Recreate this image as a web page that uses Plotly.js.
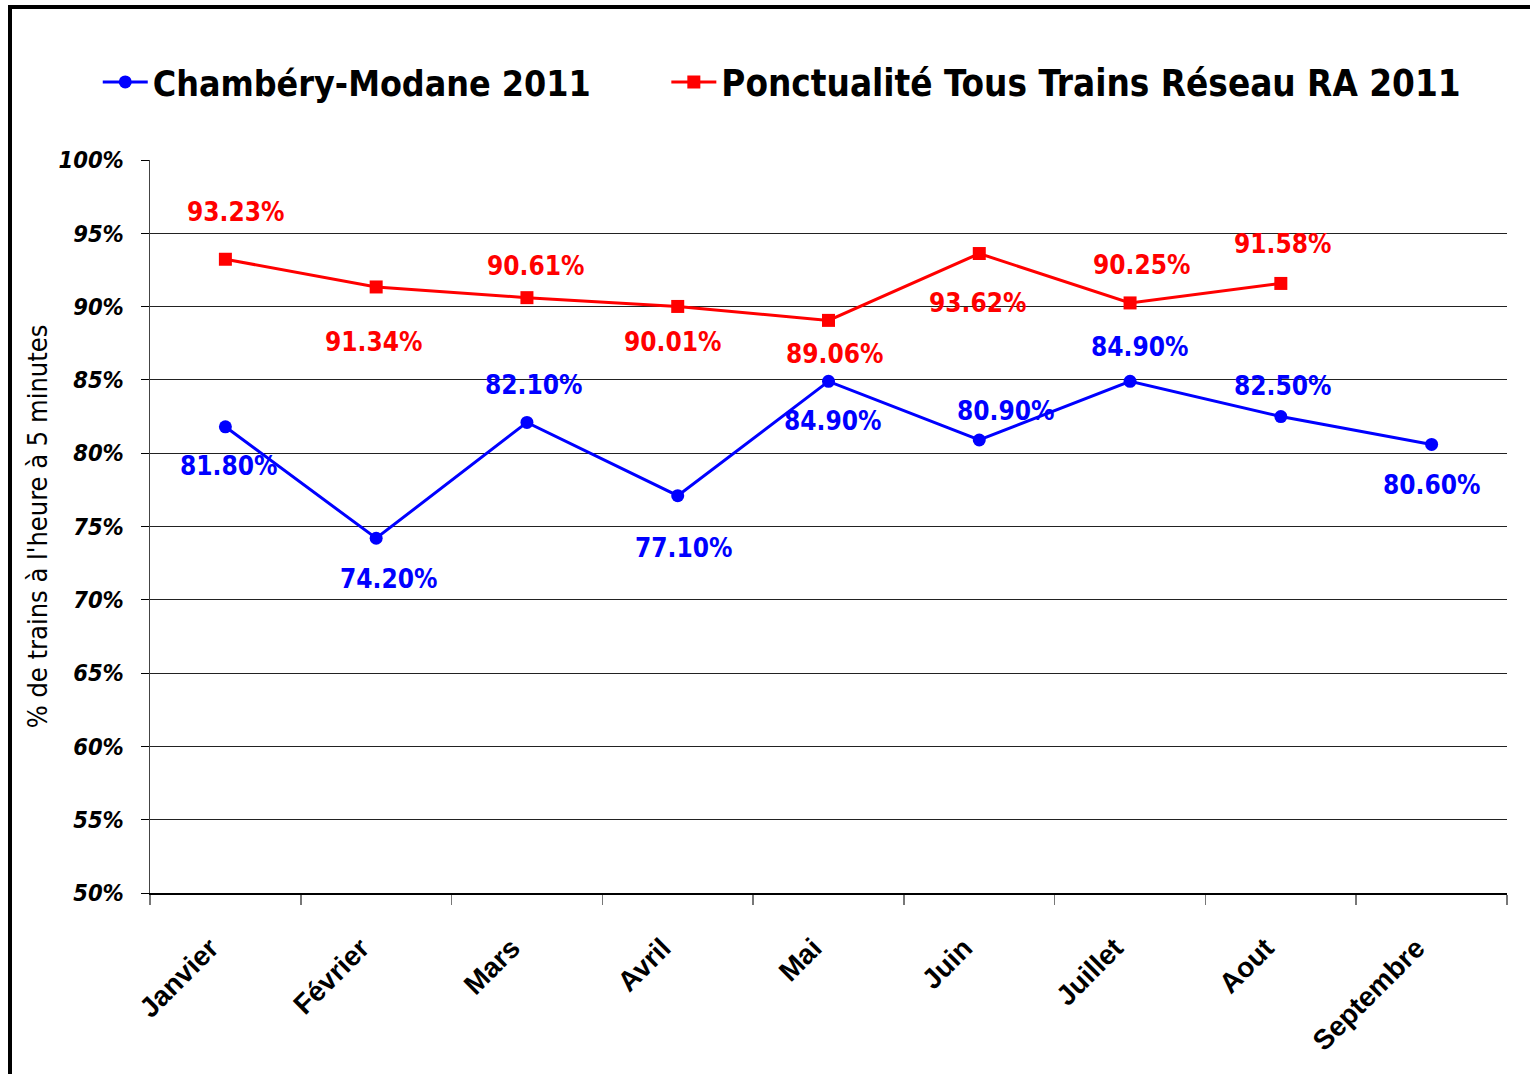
<!DOCTYPE html>
<html>
<head>
<meta charset="utf-8">
<script src="https://cdn.plot.ly/plotly-3.0.1.min.js"></script>
<style>
  html, body { margin: 0; padding: 0; background: #fff; overflow: hidden; }
  #chart { width: 1530px; height: 1074px; }
  #frame { position: absolute; left: 8px; top: 5px; width: 1700px; height: 1300px;
           border-left: 4px solid #000; border-top: 4px solid #000; pointer-events: none; }
</style>
</head>
<body>
<div id="chart"></div>
<div id="frame"></div>
<script>
const months = ["Janvier", "Février", "Mars", "Avril", "Mai", "Juin", "Juillet", "Aout", "Septembre"];
const chamberyModane = [81.80, 74.20, 82.10, 77.10, 84.90, 80.90, 84.90, 82.50, 80.60];
const reseauRA = [93.23, 91.34, 90.61, 90.01, 89.06, 93.62, 90.25, 91.58];
const seriesNames = ["Chambéry-Modane 2011", "Ponctualité Tous Trains Réseau RA 2011"];

const NARROW = "'DejaVu Sans Condensed', 'Liberation Sans Narrow', sans-serif";
const WIDE = "'Liberation Sans', Arial, sans-serif";
const BLUE = "#0000ff", RED = "#ff0000";

// label offsets (pixels) relative to each point
const blueShift = [[3,-39],[12,-41],[7,37],[6,-52],[4,-40],[26,29],[9,34],[2,31],[0,-41]];
const redShift = [[10,47],[-3,-55],[9,32],[-5,-36],[6,-34],[-2,-49],[11,38],[2,39]];

const traces = [
  {
    x: months, y: chamberyModane, name: seriesNames[0], type: "scatter", mode: "lines+markers",
    line: {color: BLUE, width: 3}, marker: {color: BLUE, symbol: "circle", size: 13},
    cliponaxis: false, legend: "legend"
  },
  {
    x: months.slice(0, reseauRA.length), y: reseauRA, name: seriesNames[1], type: "scatter", mode: "lines+markers",
    line: {color: RED, width: 3}, marker: {color: RED, symbol: "square", size: 13},
    cliponaxis: false, legend: "legend2"
  }
];

const annotations = [];
function addLabels(vals, shifts, color) {
  vals.forEach((v, i) => {
    annotations.push({
      x: months[i], y: v, xref: "x", yref: "y", text: v.toFixed(2) + "%",
      showarrow: false, xshift: shifts[i][0], yshift: shifts[i][1],
      font: {family: NARROW, size: 26, color: color, weight: "bold"}
    });
  });
}
addLabels(reseauRA, redShift, RED);
addLabels(chamberyModane, blueShift, BLUE);

const legendFont = {family: NARROW, size: 35.5, color: "#000", weight: "bold"};
const layout = {
  width: 1530, height: 1074,
  margin: {l: 150, r: 23, t: 160, b: 181},
  paper_bgcolor: "#fff", plot_bgcolor: "#fff",
  showlegend: true,
  legend: {
    orientation: "h", x: -0.0385, xanchor: "left", y: 1.106, yanchor: "middle",
    font: legendFont, itemwidth: 45, bgcolor: "rgba(0,0,0,0)"
  },
  legend2: {
    orientation: "h", x: 0.3805, xanchor: "left", y: 1.106, yanchor: "middle",
    font: {family: NARROW, size: 36.5, color: "#000", weight: "bold"}, itemwidth: 45, bgcolor: "rgba(0,0,0,0)"
  },
  xaxis: {
    type: "category", tickson: "boundaries", ticks: "outside", ticklen: 10, tickwidth: 1.5,
    tickcolor: "#777", showline: true, linecolor: "#000", linewidth: 1.5,
    showgrid: false, tickangle: -45, ticklabelstandoff: 26, ticklabelshift: -15,
    tickfont: {family: WIDE, size: 28, color: "#000", weight: "bold"},
    range: [-0.5, 8.5], fixedrange: true
  },
  yaxis: {
    range: [50, 100], dtick: 5, tick0: 50, ticksuffix: "%",
    ticks: "outside", ticklen: 8, tickcolor: "#000", ticklabelstandoff: 12,
    showline: true, linecolor: "#444", linewidth: 1.5,
    showgrid: true, gridcolor: "#222", gridwidth: 1, zeroline: false,
    tickfont: {family: NARROW, size: 23.5, color: "#000", weight: "bold", style: "italic"},
    title: {text: "% de trains à l'heure à 5 minutes", standoff: 3,
            font: {family: NARROW, size: 27, color: "#000"}}
  },
  annotations: annotations
};

Plotly.newPlot("chart", traces, layout, {displayModeBar: false, staticPlot: true});
</script>
</body>
</html>
